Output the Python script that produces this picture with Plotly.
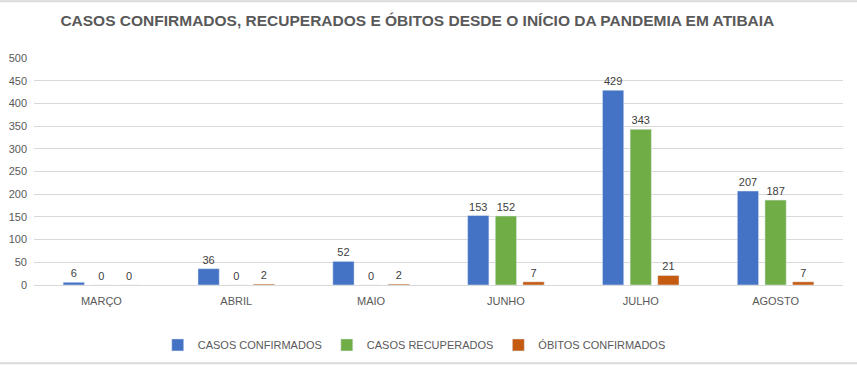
import plotly.graph_objects as go

meses = ["MARÇO", "ABRIL", "MAIO", "JUNHO", "JULHO", "AGOSTO"]
confirmados = [6, 36, 52, 153, 429, 207]
recuperados = [0, 0, 0, 152, 343, 187]
obitos = [0, 2, 2, 7, 21, 7]
series = [
    ("CASOS CONFIRMADOS", confirmados, "#4472C4"),
    ("CASOS RECUPERADOS", recuperados, "#70AD47"),
    ("ÓBITOS CONFIRMADOS", obitos, "#C55A11"),
]
yticks = [0, 50, 100, 150, 200, 250, 300, 350, 400, 450, 500]

FONT = "Liberation Sans, Arial"

fig = go.Figure()
for name, vals, color in series:
    fig.add_trace(go.Bar(
        name=name, x=meses, y=vals, marker_color=color,
        text=vals, textposition="outside", cliponaxis=False,
        textfont=dict(size=11, color="#404040", family=FONT),
    ))

fig.update_layout(
    width=857, height=365,
    margin=dict(l=34, r=14, t=58, b=80, autoexpand=False),
    paper_bgcolor="white", plot_bgcolor="white",
    barmode="group", bargap=0.385, bargroupgap=0.23,
    title=dict(
        text="<b>CASOS CONFIRMADOS, RECUPERADOS E ÓBITOS DESDE O INÍCIO DA PANDEMIA EM ATIBAIA</b>",
        x=0.487, xanchor="center", yref="container", y=0.945, yanchor="middle",
        font=dict(size=15.5, color="#595959", family=FONT),
    ),
    font=dict(family=FONT, color="#595959", size=11),
    showlegend=True,
    legend=dict(
        orientation="h", x=0.47, xanchor="center", yref="container", y=0.055, yanchor="middle",
        font=dict(size=11, color="#595959", family=FONT),
        itemwidth=30, traceorder="normal",
    ),
    xaxis=dict(showgrid=False, showline=True, linecolor="#D9D9D9", ticks="",
               ticklabelstandoff=6, tickfont=dict(size=11, color="#595959")),
    yaxis=dict(range=[0, 500], tickvals=yticks, showgrid=True, gridcolor="#D9D9D9",
               zeroline=False, ticks="", ticklabelstandoff=6,
               tickfont=dict(size=11, color="#595959")),
    shapes=[
        dict(type="line", xref="paper", yref="paper", x0=-0.05, x1=1.05, y0=1.25, y1=1.25,
             line=dict(color="#D9D9D9", width=2)),
        dict(type="line", xref="paper", yref="paper", x0=-0.05, x1=1.05, y0=-0.345, y1=-0.345,
             line=dict(color="#D9D9D9", width=2)),
    ],
)

fig.write_html("out.html", config={"displayModeBar": False},
               post_script="document.body.style.margin='0px';")
